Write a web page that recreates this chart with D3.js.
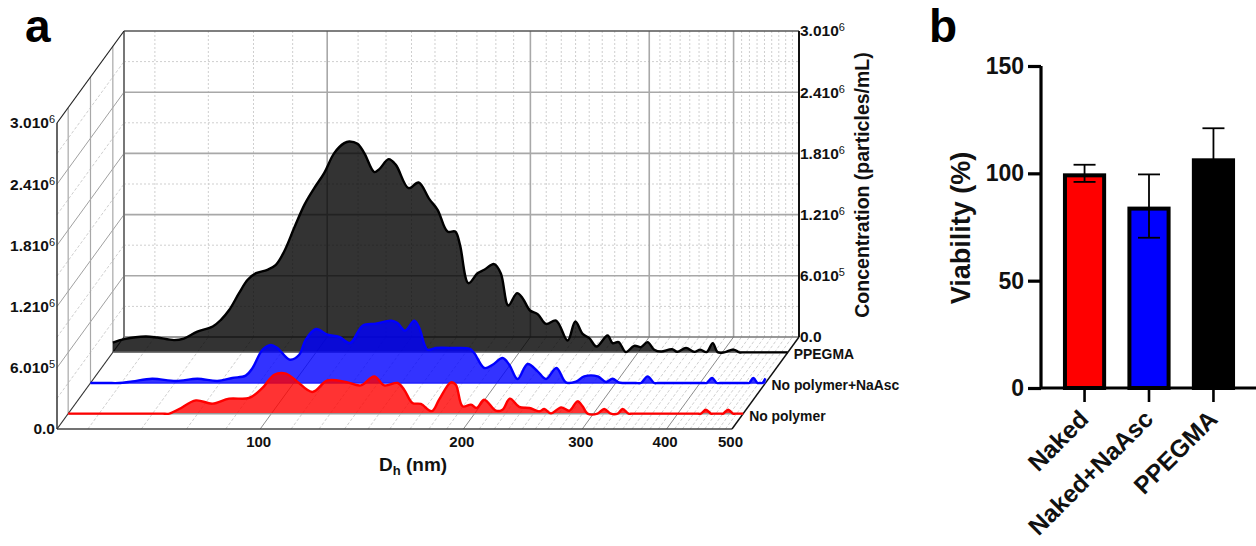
<!DOCTYPE html>
<html>
<head>
<meta charset="utf-8">
<script src="https://cdn.jsdelivr.net/npm/d3@7"></script>
<style>
    html, body { margin: 0; padding: 0; background: #fff; }
    text { font-family: "Liberation Sans", Arial, sans-serif; font-weight: bold; fill: #111; }
</style>
</head>
<body>
<div id="container"></div>
<script>
// panel a: size in nm, concentration in 1e5 particles/mL
const ppegmaSize = [50, 52, 55.9, 58.2, 61.6, 63.7, 66.7, 70.3, 72.3, 74.4, 76.9, 79.2, 81.5, 84.7, 87.2, 89.7, 92.8, 96.1, 99.4, 102.8, 106.4, 110.1, 112, 115.2, 117.9, 122, 124.1, 128.1, 131.3, 137.1, 141.9, 147.2, 151.4, 156.6, 160.8, 163.4, 168.2, 173.5, 177.5, 183.6, 187.8, 192.7, 198.5, 202.3, 207.5, 213, 219.1, 226.8, 235.9, 242.2, 248.3, 254, 260.4, 270.3, 275, 280.7, 287.7, 296.1, 303, 309.8, 317, 324.4, 336.8, 342.9, 353.3, 363.4, 370.9, 379, 387, 393.5, 402.5, 415.6, 423.7, 430, 445, 470, 500];
const ppegmaConc = [0.96, 1.29, 1.55, 1.45, 1.2, 1.35, 2.04, 2.53, 3.19, 4.17, 5.8, 7.11, 7.76, 8.09, 8.58, 9.88, 12.18, 14.46, 16.1, 17.57, 19.53, 20.51, 20.67, 20.44, 19.53, 17.67, 17.96, 18.94, 18.38, 16.1, 16.65, 15.02, 13.97, 11.84, 11.84, 10.54, 6.78, 7.76, 8.09, 8.65, 7.76, 4.59, 5.8, 5.31, 4.1, 3.75, 2.79, 3.12, 1.16, 3.02, 1.81, 1.39, 0.57, 1.65, 0.9, 1, 0.02, 0.64, 0.51, 1, 0.25, 0.08, 0.31, 0.05, 0.44, 0.05, 0.27, 0.02, 0.9, 0.02, 0, 0.27, 0, 0, 0, 0, 0];

const nasSize = [50, 53, 55.1, 57.7, 61.7, 66.9, 72, 77.1, 81.1, 84.9, 86.9, 89.9, 92.5, 94.6, 98.7, 101.9, 104.2, 107.9, 112.2, 116.8, 121.2, 126.5, 132.3, 139.4, 142.5, 146.2, 150.9, 153.5, 157.8, 162.4, 171.9, 182, 185.1, 191.6, 197.1, 203.9, 208.6, 214.6, 222.1, 229.8, 236.5, 245, 253.1, 261.9, 269.4, 282, 290.3, 296.7, 303, 308, 316, 321.4, 326.9, 334.4, 342.1, 346, 352, 380, 403, 406, 409, 416.6, 423.7, 428, 435, 455, 467, 470, 473, 479.6, 486.6, 489, 492, 494.6, 500];
const nasConc = [0, 0, 0, 0.16, 0.42, 0.2, 0.42, 0.2, 0.49, 0.72, 1.47, 3.26, 3.73, 3.43, 2.28, 2.77, 4.25, 5.29, 4.74, 4.51, 3.92, 5.62, 5.81, 6.11, 5.88, 5.13, 6.11, 5.39, 3.26, 3.43, 3.43, 3.36, 2.94, 1.47, 1.79, 2.45, 1.79, 0.39, 1.86, 1.14, 0.39, 1.47, 0.06, 0.13, 0.65, 0.65, 0.1, 0.42, 0.06, 0, 0, 0, 0, 0.65, 0, 0, 0, 0, 0, 0, 0, 0.49, 0, 0, 0, 0, 0, 0, 0, 0.49, 0, 0, 0, 0, 0.45];

const noneSize = [50, 60, 67, 69, 70.6, 73, 77.3, 81.8, 86.6, 92.7, 97, 101, 105.1, 108.7, 115, 121.1, 128.9, 135.7, 142, 147, 153.8, 157.3, 161.8, 166.5, 172.9, 177.2, 184.5, 187.6, 192, 197.6, 201.4, 206.7, 215.1, 220, 225.6, 232.9, 241.1, 249.5, 253.7, 259.6, 268.7, 276.3, 284.2, 289.1, 294.1, 304.2, 311.2, 318.4, 325.8, 331.4, 338.2, 342, 348, 380, 420, 428, 432.9, 440.3, 447.9, 451, 455, 461, 464, 467, 475, 483.1, 487, 492, 500];
const noneConc = [0, 0, 0, 0, 0, 0.46, 1.3, 0.98, 1.47, 1.54, 2.52, 3.82, 3.92, 3.26, 2.13, 3.26, 3.11, 2.77, 3.66, 2.77, 3.01, 2.35, 1.05, 0.95, 0.25, 1.37, 3.07, 2.84, 0.72, 0.88, 0.56, 1.37, 0.29, 0.39, 1.47, 0.66, 0.56, 0.23, 0.46, 0.03, 0.62, 0.29, 1.21, 0.72, 0, 0, 0.46, 0, 0, 0.46, 0, 0, 0, 0, 0, 0, 0, 0.39, 0, 0, 0, 0, 0, 0, 0.39, 0, 0, 0, 0];

const depthNames = ['No polymer', 'No polymer+NaAsc', 'PPEGMA'];
const sizeTicks = [100, 200, 300, 400, 500];
const concTicks = [0, 6, 12, 18, 24, 30];
const concLabels = [['0.0', ''], ['6.010', '5'], ['1.210', '6'], ['1.810', '6'], ['2.410', '6'], ['3.010', '6']];

// panel b
const groups = ['Naked', 'Naked+NaAsc', 'PPEGMA'];
const viability = [100, 84.5, 107];
const viabilityHi = [104, 99.5, 121];
const viabilityLo = [96, 70, 93];
const groupColors = ['#ff0000', '#0000ff', '#000000'];
const viabilityTicks = [0, 50, 100, 150];

const svg = d3.select('#container').append('svg')
    .attr('width', 1256)
    .attr('height', 546)
    .style('display', 'block');

const DEPTH_X = 67, DEPTH_Y = -92;
const x3 = d3.scaleLog().domain([50, 500]).range([57, 732]);
const y3 = d3.scaleLinear().domain([0, 30]).range([429, 123]);
const depth = d3.scaleBand().domain(depthNames).range([0, 1]);
const px = (s, t) => x3(s) + t * DEPTH_X;
const py = (v, t) => y3(v) + t * DEPTH_Y;
const smooth = d3.curveCatmullRom.alpha(0.5);

function draw_grid() {
    let grid = svg.append('g').attr('id', 'grid').attr('fill', 'none');
    let minorStep = 100 / 9;
    let sizeMinor = d3.range(-4, 37).map(k => 100 + k * minorStep)
        .filter(s => !sizeTicks.some(m => Math.abs(m - s) < 1));
    let concMinor = concTicks.slice(0, -1).map(v => v + 3);

    const seg = (x1, y1, x2, y2, color, w, dash) => grid.append('line')
        .attr('x1', x1).attr('y1', y1).attr('x2', x2).attr('y2', y2)
        .attr('stroke', color).attr('stroke-width', w)
        .attr('stroke-dasharray', dash || null);

    // dotted minor lines first
    sizeMinor.forEach(s => {
        seg(px(s, 1), py(30, 1), px(s, 1), py(0, 1), '#cfcfcf', 1, '2,2');
        seg(px(s, 0), py(0, 0), px(s, 1), py(0, 1), '#cfcfcf', 1, '3,2');
    });
    concMinor.forEach(v => {
        seg(px(50, 1), py(v, 1), px(500, 1), py(v, 1), '#cfcfcf', 1, '2,2');
        seg(px(50, 0), py(v, 0), px(50, 1), py(v, 1), '#cfcfcf', 1, '3,2');
    });

    // solid majors
    sizeTicks.slice(0, -1).forEach(s => {
        seg(px(s, 1), py(30, 1), px(s, 1), py(0, 1), '#a8a8a8', 1.6);
        seg(px(s, 0), py(0, 0), px(s, 1), py(0, 1), '#8c8c8c', 1);
    });
    concTicks.slice(1, -1).forEach(v => {
        seg(px(50, 1), py(v, 1), px(500, 1), py(v, 1), '#a8a8a8', 1.6);
        seg(px(50, 0), py(v, 0), px(50, 1), py(v, 1), '#a0a0a0', 1);
    });
    depthNames.forEach(n => {
        let t = depth(n) + depth.bandwidth() / 2;
        seg(px(50, t), py(30, t), px(50, t), py(0, t), '#a8a8a8', 1.2);
    });

    // box edges
    seg(px(50, 1), py(0, 1), px(500, 1), py(0, 1), '#777', 1.5);
    seg(px(50, 1), py(30, 1), px(50, 1), py(0, 1), '#777', 2);
    seg(px(50, 1), py(30, 1), px(500, 1), py(30, 1), '#555', 1.5);
    seg(px(50, 0), py(30, 0), px(50, 1), py(30, 1), '#222', 1.2);
    seg(px(50, 0), py(30, 0), px(50, 0), py(0, 0), '#333', 1.5);
    seg(px(50, 0), py(0, 0), px(500, 0), py(0, 0), '#444', 1.5);
    seg(px(50, 0), py(0, 0), px(50, 1), py(0, 1), '#333', 1.2);
    seg(px(500, 0), py(0, 0), px(500, 1), py(0, 1), '#111', 1.5);
}

function draw_series(name, sizes, concs, color, baseColor) {
    let t = depth(name) + depth.bandwidth() / 2;
    let rows = sizes.map((s, i) => [s, concs[i]]);
    let g = svg.append('g').attr('class', 'series');
    g.append('path')
        .attr('d', d3.area()
            .x(d => px(d[0], t))
            .y0(py(0, t))
            .y1(d => py(d[1], t))
            .curve(smooth)(rows))
        .attr('fill', color)
        .attr('fill-opacity', 0.8);
    g.append('line')
        .attr('x1', px(50, t)).attr('x2', px(500, t))
        .attr('y1', py(0, t)).attr('y2', py(0, t))
        .attr('stroke', baseColor)
        .attr('stroke-width', 1.5);
    g.append('path')
        .attr('d', d3.line()
            .x(d => px(d[0], t))
            .y(d => py(d[1], t))
            .curve(smooth)(rows))
        .attr('fill', 'none')
        .attr('stroke', color)
        .attr('stroke-width', 2.4)
        .attr('stroke-linejoin', 'round');
}

function add_power(sel) {
    sel.selectAll('.tick text').each(function(v) {
        let label = concLabels[concTicks.indexOf(v)];
        let text = d3.select(this).text(label[0]);
        text.append('tspan')
            .attr('dy', -5)
            .style('font-size', '11px')
            .style('font-weight', 'normal')
            .text(label[1]);
    });
}

function draw_labels_a() {
    let left = svg.append('g')
        .attr('transform', `translate(${px(50, 0)},0)`)
        .call(d3.axisLeft(y3).tickValues(concTicks).tickSize(0).tickPadding(2));
    left.select('.domain').remove();
    left.selectAll('text').style('font-size', '15.5px');
    add_power(left);

    let yBack = y3.copy().range([py(0, 1), py(30, 1)]);
    let right = svg.append('g')
        .attr('transform', `translate(${px(500, 1)},0)`)
        .call(d3.axisRight(yBack).tickValues(concTicks).tickSize(0).tickPadding(1));
    right.select('.domain').remove();
    right.selectAll('text').style('font-size', '15.5px');
    add_power(right);
    svg.append('line')
        .attr('x1', px(500, 1)).attr('x2', px(500, 1))
        .attr('y1', py(30, 1)).attr('y2', py(0, 1))
        .attr('stroke', '#111').attr('stroke-width', 2);

    let bottom = svg.append('g')
        .attr('transform', `translate(-2,${py(0, 0)})`)
        .call(d3.axisBottom(x3).tickValues(sizeTicks).tickFormat(d3.format('d')).tickSize(0).tickPadding(7));
    bottom.select('.domain').remove();
    bottom.selectAll('text').style('font-size', '15px');

    depthNames.forEach(n => {
        let t = depth(n) + depth.bandwidth() / 2;
        svg.append('text')
            .attr('x', px(500, t) + 6)
            .attr('y', py(0, t) + 7)
            .style('font-size', '13.9px')
            .text(n);
    });

    let dh = svg.append('text')
        .attr('x', 379)
        .attr('y', 471)
        .style('font-size', '19px')
        .text('D');
    dh.append('tspan').attr('dy', 4).style('font-size', '13px').text('h');
    dh.append('tspan').attr('dy', -4).text(' (nm)');

    svg.append('text')
        .attr('transform', 'translate(869,185) rotate(-90)')
        .attr('text-anchor', 'middle')
        .style('font-size', '19.5px')
        .text('Concentration (particles/mL)');

    svg.append('text').attr('x', 25).attr('y', 42).style('font-size', '46px').style('fill', '#000').text('a');
    svg.append('text').attr('x', 929).attr('y', 42).style('font-size', '46px').style('fill', '#000').text('b');
}

function draw_bars() {
    const x = d3.scaleBand().domain(groups).range([1052, 1246]).paddingInner(0.33).paddingOuter(0.17);
    const y = d3.scaleLinear().domain([0, 150]).range([388, 66]);
    const axisX = 1041;

    let bars = svg.append('g').attr('id', 'bars');

    let err = bars.selectAll('g.err').data(groups).enter().append('g').attr('class', 'err');

    bars.selectAll('rect')
        .data(groups)
        .enter()
        .insert('rect', 'g.err')
        .attr('x', d => x(d) + 2)
        .attr('width', x.bandwidth() - 4)
        .attr('y', (d, i) => y(viability[i]) + 2)
        .attr('height', (d, i) => y(0) - y(viability[i]) - 2)
        .attr('fill', (d, i) => groupColors[i])
        .attr('stroke', '#000')
        .attr('stroke-width', 4);

    err.append('line')
        .attr('x1', d => x(d) + x.bandwidth() / 2)
        .attr('x2', d => x(d) + x.bandwidth() / 2)
        .attr('y1', (d, i) => y(viabilityHi[i]))
        .attr('y2', (d, i) => y(viabilityLo[i]));
    err.append('line')
        .attr('x1', d => x(d) + x.bandwidth() / 2 - 11)
        .attr('x2', d => x(d) + x.bandwidth() / 2 + 11)
        .attr('y1', (d, i) => y(viabilityHi[i]))
        .attr('y2', (d, i) => y(viabilityHi[i]));
    err.append('line')
        .attr('x1', d => x(d) + x.bandwidth() / 2 - 11)
        .attr('x2', d => x(d) + x.bandwidth() / 2 + 11)
        .attr('y1', (d, i) => y(viabilityLo[i]))
        .attr('y2', (d, i) => y(viabilityLo[i]));
    err.selectAll('line').attr('stroke', '#000').attr('stroke-width', 1.8);

    let left = svg.append('g')
        .attr('transform', `translate(${axisX},0)`)
        .call(d3.axisLeft(y).tickValues(viabilityTicks).tickSize(13).tickPadding(4));
    left.selectAll('line, path').attr('stroke', '#000').attr('stroke-width', 3.2);
    left.select('.domain').attr('d', `M0,${y(150)}V${y(0)}`);
    left.selectAll('text').style('font-size', '23px');

    let bottom = svg.append('g')
        .attr('transform', `translate(0,${y(0)})`)
        .call(d3.axisBottom(x).tickSize(14).tickPadding(4));
    bottom.select('.domain').attr('d', `M${axisX},0H1256`).attr('stroke', '#000').attr('stroke-width', 3.2);
    bottom.selectAll('line').attr('stroke', '#000').attr('stroke-width', 2.6);
    bottom.selectAll('text')
        .attr('text-anchor', 'end')
        .attr('dy', '0.5em')
        .attr('transform', 'translate(-3,6) rotate(-45,0,18)')
        .style('font-size', '24.5px');

    svg.append('text')
        .attr('transform', 'translate(970,228) rotate(-90)')
        .attr('text-anchor', 'middle')
        .style('font-size', '27px')
        .text('Viability (%)');
}

draw_grid();
draw_series('PPEGMA', ppegmaSize, ppegmaConc, '#000000', '#777777');
draw_series('No polymer+NaAsc', nasSize, nasConc, '#0000ff', '#2222ff');
draw_series('No polymer', noneSize, noneConc, '#ff0000', '#999999');
draw_labels_a();
draw_bars();
</script>
</body>
</html>
